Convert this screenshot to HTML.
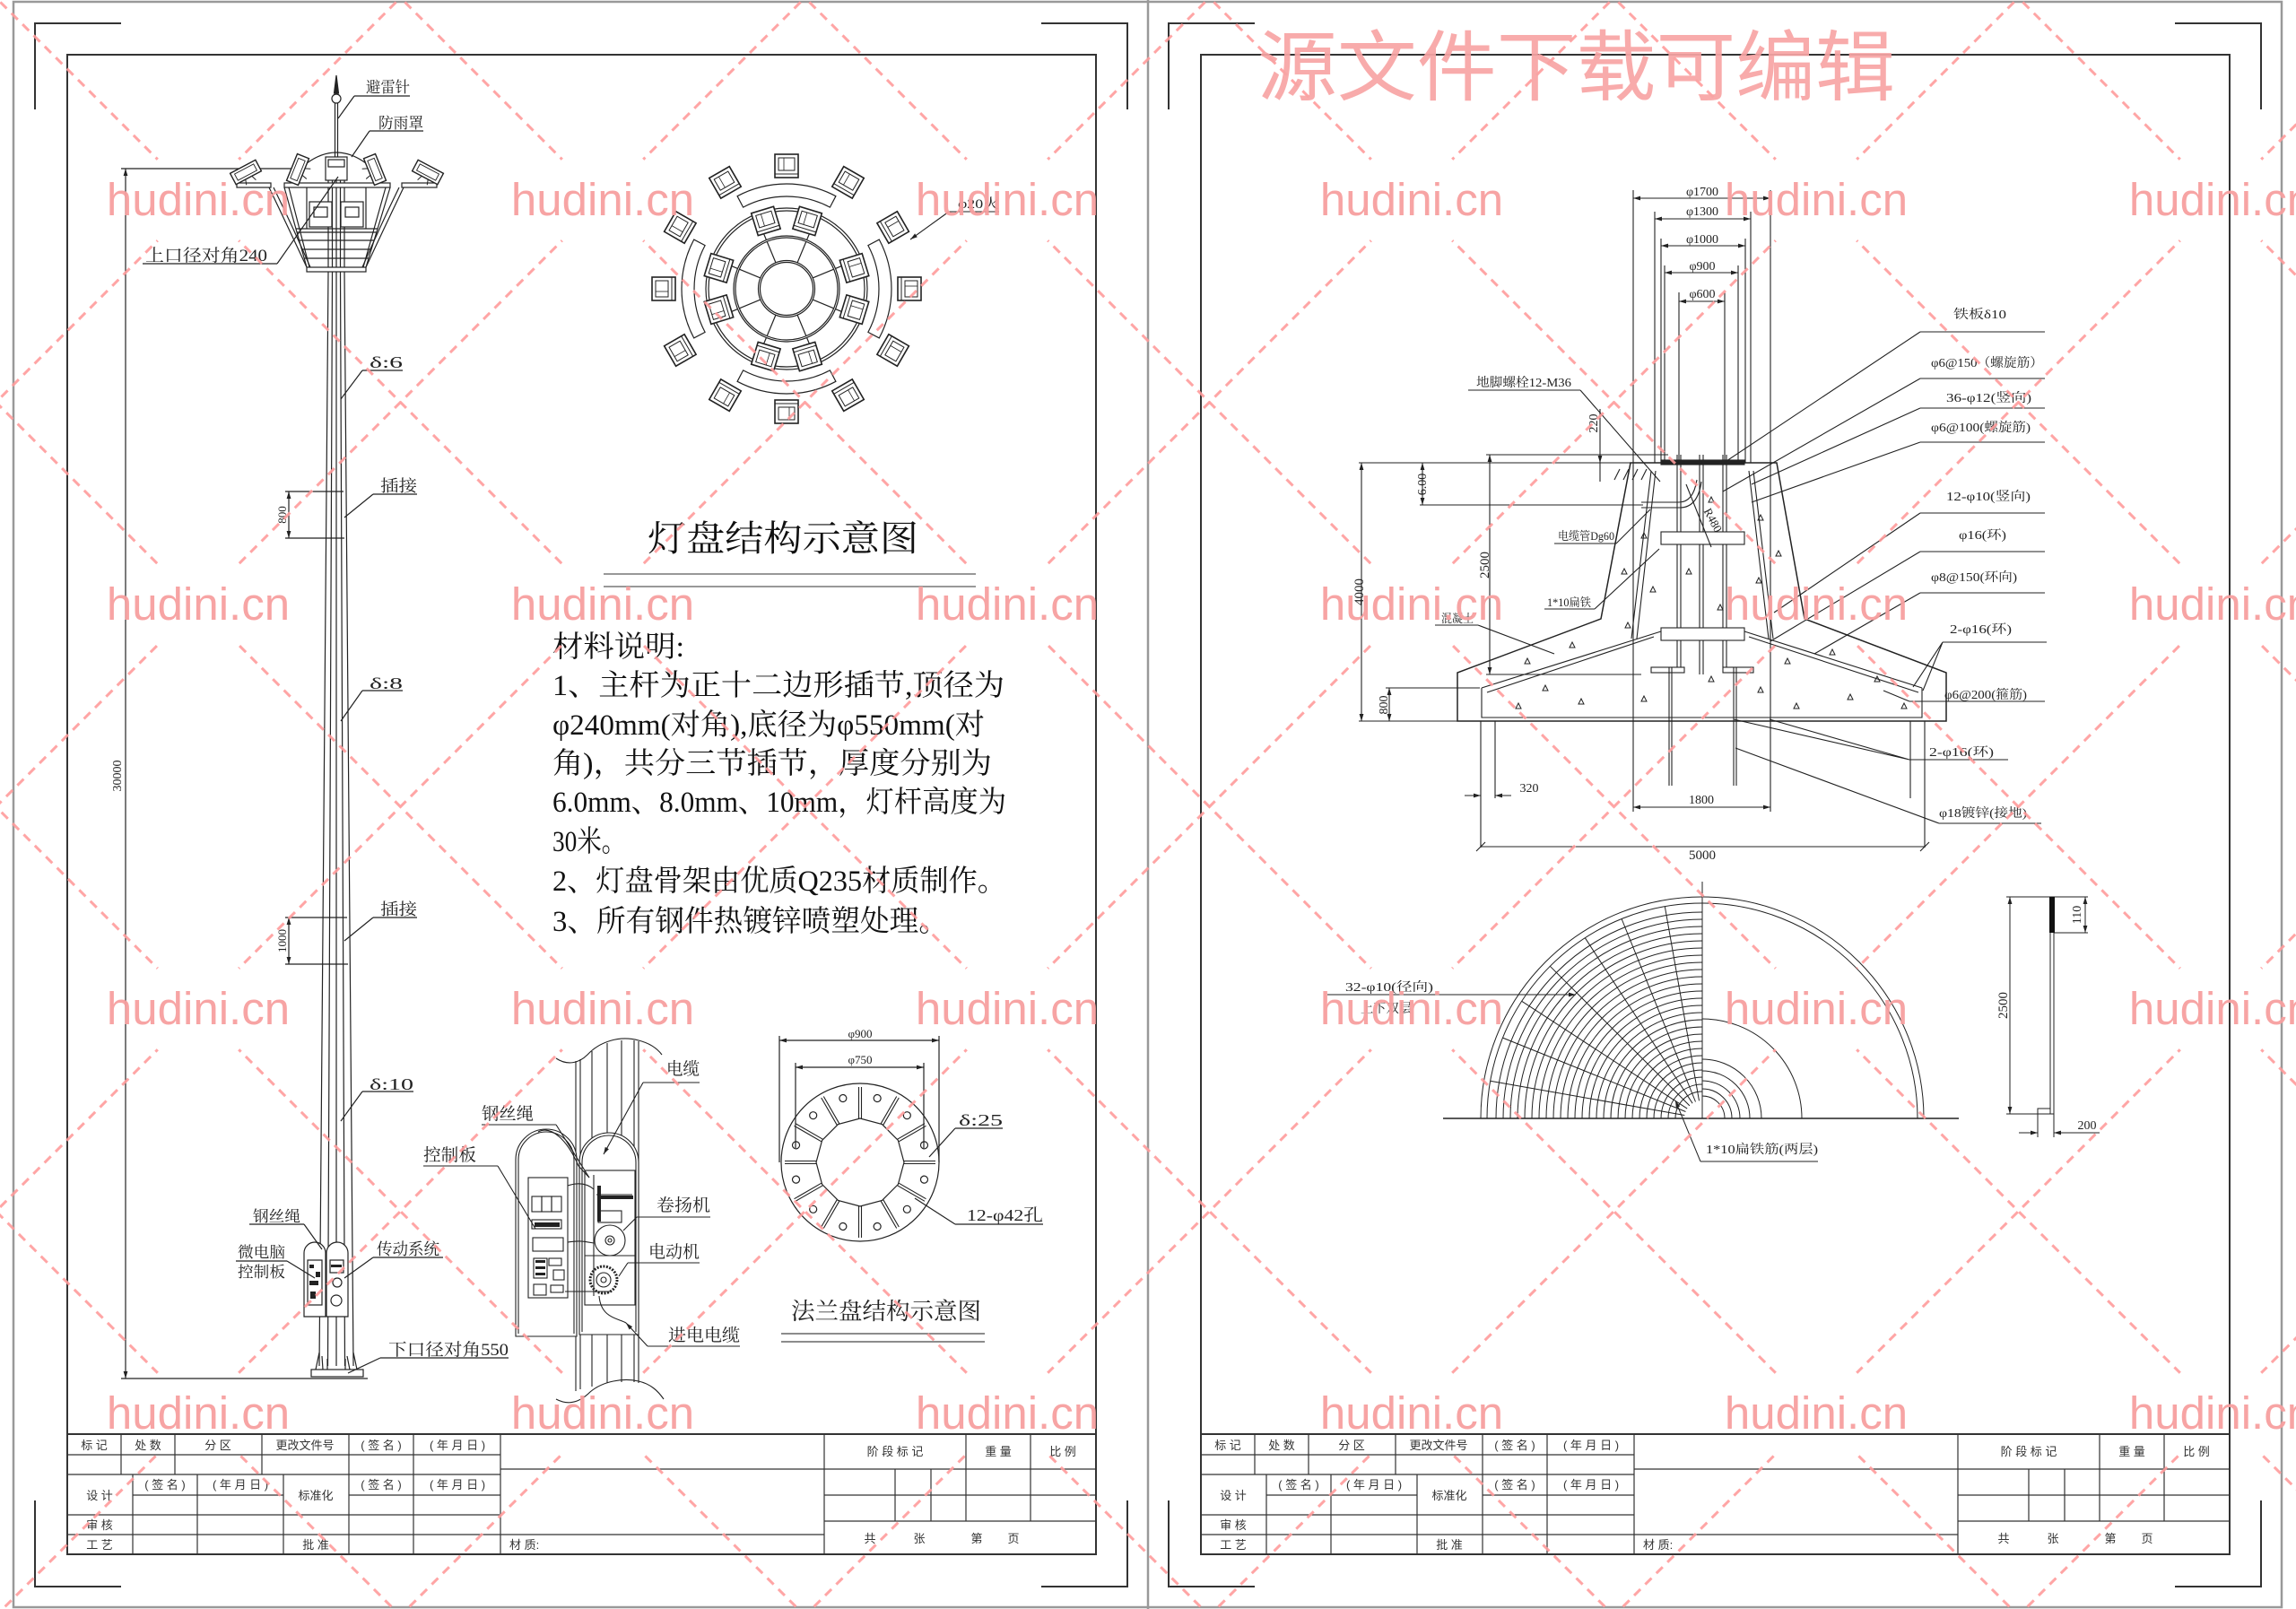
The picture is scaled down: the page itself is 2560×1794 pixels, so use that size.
<!DOCTYPE html>
<html><head><meta charset="utf-8">
<style>
html,body{margin:0;padding:0;background:#fff;}
svg{display:block;}
.s{font-family:"Liberation Serif","Noto Serif CJK SC",serif;}
.n{font-family:"Liberation Sans","Noto Sans CJK SC",sans-serif;}
</style></head><body>
<svg width="2560" height="1794" viewBox="0 0 2560 1794" xmlns="http://www.w3.org/2000/svg">
<defs>
<marker id="ar" viewBox="0 0 10 10" refX="10" refY="5" markerWidth="8" markerHeight="8" orient="auto-start-reverse" markerUnits="userSpaceOnUse"><path d="M0,2L10,5L0,8z" fill="#222"/></marker>
<g id="lamp"><rect x="-13" y="-13" width="26" height="26" fill="#fff" stroke="#222" stroke-width="1.6"/><rect x="-9" y="-9" width="18" height="14" fill="none" stroke="#222" stroke-width="1"/><line x1="-13" y1="9" x2="13" y2="9" stroke="#222"/><line x1="-3" y1="-9" x2="-3" y2="5" stroke="#222" stroke-width="0.8"/></g>
<g id="fl"><rect x="-16" y="-7" width="32" height="14" fill="#fff" stroke="#222" stroke-width="1.4"/><rect x="-12" y="-4" width="24" height="8" fill="none" stroke="#222" stroke-width="0.9"/><path d="M-4,7L-6,13M4,7L6,13" stroke="#222"/></g>
<g id="sp" stroke="#222" stroke-width="1.2" fill="none"><line x1="877" y1="263" x2="877" y2="235"/><line x1="877" y1="290.5" x2="877" y2="265"/></g>
<g id="rib" stroke="#222" stroke-width="1.1" fill="none"><path d="M957.5,1247V1212M960.5,1247V1212"/></g>
<circle id="hole" cx="959" cy="1222" r="4" fill="none" stroke="#222" stroke-width="1.2"/>
<mask id="wm"><rect x="0" y="0" width="2560" height="1794" fill="#fff"/>
<g fill="#000">
<circle cx="221" cy="223" r="64"/><circle cx="672" cy="223" r="64"/><circle cx="1123" cy="223" r="64"/><circle cx="1574" cy="223" r="64"/><circle cx="2025" cy="223" r="64"/><circle cx="2476" cy="223" r="64"/>
<circle cx="221" cy="674" r="64"/><circle cx="672" cy="674" r="64"/><circle cx="1123" cy="674" r="64"/><circle cx="1574" cy="674" r="64"/><circle cx="2025" cy="674" r="64"/><circle cx="2476" cy="674" r="64"/>
<circle cx="221" cy="1125" r="64"/><circle cx="672" cy="1125" r="64"/><circle cx="1123" cy="1125" r="64"/><circle cx="1574" cy="1125" r="64"/><circle cx="2025" cy="1125" r="64"/><circle cx="2476" cy="1125" r="64"/>
<circle cx="221" cy="1576" r="64"/><circle cx="672" cy="1576" r="64"/><circle cx="1123" cy="1576" r="64"/><circle cx="1574" cy="1576" r="64"/><circle cx="2025" cy="1576" r="64"/><circle cx="2476" cy="1576" r="64"/>
</g></mask>
</defs>
<rect x="0" y="0" width="2560" height="1794" fill="#fff"/>

<!-- sheet borders -->
<g fill="none" stroke="#999" stroke-width="2.5">
<rect x="15" y="2" width="2529" height="1790"/>
<line x1="1280" y1="0" x2="1280" y2="1794"/>
</g>
<g fill="none" stroke="#333" stroke-width="2">
<path d="M135,26H39V122M1161,26H1257V122M39,1673V1769H135M1257,1673V1769H1161"/>
<path d="M1399,26H1303V122M2425,26H2521V122M1303,1673V1769H1399M2521,1673V1769H2425"/>
<rect x="75" y="61" width="1147" height="1672"/>
<rect x="1339" y="61" width="1147" height="1672"/>
</g>

<!-- TITLE BLOCK LEFT -->
<g>
<g stroke="#333" stroke-width="1.2" fill="none">
<line x1="75" y1="1599" x2="1222" y2="1599" stroke-width="2"/>
<path d="M75,1622H558M75,1644H558M148,1667H316M389,1667H558M75,1689H558M75,1711H919M558,1638H1222M919,1667H1222M919,1696H1222M135,1599V1644M195,1599V1644M292,1599V1644M389,1599V1733M461,1599V1733M558,1599V1733M148,1644V1733M220,1644V1733M316,1644V1733M919,1599V1733M1077,1599V1696M1149,1599V1696M998,1638V1696M1038,1638V1696"/>
</g>
<g class="n" font-size="13" fill="#333" text-anchor="middle">
<text x="105" y="1616">标 记</text><text x="165" y="1616">处 数</text><text x="243" y="1616">分 区</text><text x="340" y="1616">更改文件号</text><text x="425" y="1616">( 签 名 )</text><text x="510" y="1616">( 年 月 日 )</text>
<text x="111" y="1672">设 计</text><text x="184" y="1660">( 签 名 )</text><text x="268" y="1660">( 年 月 日 )</text><text x="352" y="1672">标准化</text><text x="425" y="1660">( 签 名 )</text><text x="510" y="1660">( 年 月 日 )</text>
<text x="111" y="1705">审 核</text><text x="111" y="1727">工 艺</text><text x="352" y="1727">批 准</text>
<text x="998" y="1623">阶 段 标 记</text><text x="1113" y="1623">重 量</text><text x="1185" y="1623">比 例</text>
<text x="970" y="1720">共</text><text x="1025" y="1720">张</text><text x="1089" y="1720">第</text><text x="1130" y="1720">页</text>
</g>
<text class="n" font-size="13" fill="#333" x="568" y="1727">材 质:</text>
</g>
<!-- TITLE BLOCK RIGHT -->
<g transform="translate(1264,0)">
<g stroke="#333" stroke-width="1.2" fill="none">
<line x1="75" y1="1599" x2="1222" y2="1599" stroke-width="2"/>
<path d="M75,1622H558M75,1644H558M148,1667H316M389,1667H558M75,1689H558M75,1711H919M558,1638H1222M919,1667H1222M919,1696H1222M135,1599V1644M195,1599V1644M292,1599V1644M389,1599V1733M461,1599V1733M558,1599V1733M148,1644V1733M220,1644V1733M316,1644V1733M919,1599V1733M1077,1599V1696M1149,1599V1696M998,1638V1696M1038,1638V1696"/>
</g>
<g class="n" font-size="13" fill="#333" text-anchor="middle">
<text x="105" y="1616">标 记</text><text x="165" y="1616">处 数</text><text x="243" y="1616">分 区</text><text x="340" y="1616">更改文件号</text><text x="425" y="1616">( 签 名 )</text><text x="510" y="1616">( 年 月 日 )</text>
<text x="111" y="1672">设 计</text><text x="184" y="1660">( 签 名 )</text><text x="268" y="1660">( 年 月 日 )</text><text x="352" y="1672">标准化</text><text x="425" y="1660">( 签 名 )</text><text x="510" y="1660">( 年 月 日 )</text>
<text x="111" y="1705">审 核</text><text x="111" y="1727">工 艺</text><text x="352" y="1727">批 准</text>
<text x="998" y="1623">阶 段 标 记</text><text x="1113" y="1623">重 量</text><text x="1185" y="1623">比 例</text>
<text x="970" y="1720">共</text><text x="1025" y="1720">张</text><text x="1089" y="1720">第</text><text x="1130" y="1720">页</text>
</g>
<text class="n" font-size="13" fill="#333" x="568" y="1727">材 质:</text>
</g>

<!-- ================= LEFT: POLE ================= -->
<g stroke="#222" fill="none" stroke-width="1.2">
<path d="M135,188H330M135,1537H410"/>
<line x1="140" y1="188" x2="140" y2="1537" marker-start="url(#ar)" marker-end="url(#ar)"/>
<polyline points="366,200 366,303 356,1523"/>
<polyline points="370.5,200 370.5,303 365.5,1523"/>
<polyline points="375,200 375,1523"/>
<polyline points="379.5,200 379.5,303 384.5,1523"/>
<polyline points="384,200 384,303 394,1523"/>
<path d="M318,548H383M318,600H384M318,1023H387M318,1075H388"/>
<line x1="322" y1="548" x2="322" y2="600" marker-start="url(#ar)" marker-end="url(#ar)"/>
<line x1="322" y1="1023" x2="322" y2="1075" marker-start="url(#ar)" marker-end="url(#ar)"/>
<rect x="347" y="1527" width="58" height="8" fill="#fff"/>
<path d="M352,1527L356,1508M360,1527L359,1512M390,1527L387,1512M398,1527L394,1508M365,1527V1515M385,1527V1515"/>
<path d="M375,84L372.5,104L377.5,104Z" fill="#222"/>
<circle cx="375" cy="110" r="5" fill="#fff"/>
<path d="M373.5,115V176M376.5,115V176"/>
<path d="M342,182Q375,158 408,182"/>
<rect x="363" y="175" width="24" height="26" fill="#fff"/>
<rect x="366" y="178" width="18" height="8"/>
<rect x="264" y="204" width="38" height="5" fill="#fff"/>
<rect x="317" y="204" width="118" height="5" fill="#fff"/>
<rect x="448" y="204" width="39" height="5" fill="#fff"/>
<path d="M317,209L342,298M322,209L345,298M435,209L408,298M430,209L405,298"/>
<path d="M300,209Q322,255 342,298M305,209Q327,254 346,298M450,209Q428,255 408,298M445,209Q423,254 404,298"/>
<path d="M342,209V255M408,209V255"/>
<rect x="345" y="225" width="25" height="28" fill="#fff"/><rect x="350" y="231" width="15" height="11"/>
<rect x="380" y="225" width="25" height="28" fill="#fff"/><rect x="385" y="231" width="15" height="11"/>
<path d="M330,255H421M331,259H420M334,268H417M336,278H414M339,288H411"/>
<rect x="342" y="298" width="66" height="5" fill="#fff"/>
<path d="M339,1468V1397A12,12 0 0 1 363,1397V1468Z" fill="#fff"/>
<path d="M364,1468V1397A12,12 0 0 1 388,1397V1468Z" fill="#fff"/>
<rect x="343" y="1405" width="16" height="50"/>
<circle cx="376" cy="1430" r="5"/><circle cx="375" cy="1450" r="6"/>
<rect x="368" y="1405" width="15" height="14"/>
<path d="M395,107H457M412,146H472M159,294H309M404,413H449M416,551H465M404,770H449M416,1023H465M404,1217H461M278,1365H339M263,1406H320M416,1402H494M424,1514H567"/>
<path d="M395,107L377,132M412,146L392,175M309,294L377,197M404,413L380,445M416,551L384,577M404,770L380,804M416,1023L384,1049M404,1217L380,1250M339,1365L359,1393M320,1406L351,1425M416,1402L384,1425M424,1514L388,1531"/>
</g>
<g fill="#222">
<rect x="345" y="1410" width="5" height="4"/><rect x="352" y="1418" width="5" height="6"/><rect x="345" y="1428" width="10" height="5"/><rect x="346" y="1440" width="6" height="8"/><rect x="369" y="1410" width="12" height="3"/>
</g>
<use href="#fl" transform="translate(274,192) rotate(-28)"/>
<use href="#fl" transform="translate(332,189) rotate(-68)"/>
<use href="#fl" transform="translate(418,189) rotate(68)"/>
<use href="#fl" transform="translate(477,192) rotate(28)"/>

<g class="s" fill="#222" font-size="18">
<text x="408" y="103" font-size="17" textLength="49" lengthAdjust="spacingAndGlyphs">避雷针</text>
<text x="422" y="143" font-size="17" textLength="50" lengthAdjust="spacingAndGlyphs">防雨罩</text>
<text x="162" y="291" font-size="19" textLength="136" lengthAdjust="spacingAndGlyphs">上口径对角240</text>
<text x="412" y="410" textLength="37" lengthAdjust="spacingAndGlyphs">δ:6</text>
<text x="424" y="548" textLength="41" lengthAdjust="spacingAndGlyphs">插接</text>
<text x="412" y="768" textLength="37" lengthAdjust="spacingAndGlyphs">δ:8</text>
<text x="424" y="1020" textLength="41" lengthAdjust="spacingAndGlyphs">插接</text>
<text x="412" y="1215" textLength="49" lengthAdjust="spacingAndGlyphs">δ:10</text>
<text x="282" y="1362" font-size="17" textLength="53" lengthAdjust="spacingAndGlyphs">钢丝绳</text>
<text x="265" y="1402" font-size="17" textLength="53" lengthAdjust="spacingAndGlyphs">微电脑</text>
<text x="265" y="1424" font-size="17" textLength="53" lengthAdjust="spacingAndGlyphs">控制板</text>
<text x="420" y="1399" textLength="70" lengthAdjust="spacingAndGlyphs">传动系统</text>
<text x="433" y="1511" font-size="19" textLength="134" lengthAdjust="spacingAndGlyphs">下口径对角550</text>
<text transform="translate(135,865) rotate(-90)" font-size="14" text-anchor="middle">30000</text>
<text transform="translate(319,574) rotate(-90)" font-size="13" text-anchor="middle">800</text>
<text transform="translate(319,1049) rotate(-90)" font-size="13" text-anchor="middle">1000</text>
</g>

<!-- ================= LAMP DISK ================= -->
<g stroke="#222" fill="none" stroke-width="1.2">
<path id="seg" d="M828.6,231.1A103,103 0 0 1 925.4,231.1L931.9,218.7A117,117 0 0 0 822.1,218.7Z" fill="#fff"/>
<use href="#seg" transform="rotate(90 877 322)"/>
<use href="#seg" transform="rotate(180 877 322)"/>
<use href="#seg" transform="rotate(270 877 322)"/>
<circle cx="877" cy="322" r="90" fill="#fff"/><circle cx="877" cy="322" r="87"/>
<circle cx="877" cy="322" r="59"/><circle cx="877" cy="322" r="57"/>
<circle cx="877" cy="322" r="31.5"/><circle cx="877" cy="322" r="29.5"/>
</g>
<g>
<use href="#sp" transform="rotate(22.5 877 322)"/><use href="#sp" transform="rotate(67.5 877 322)"/><use href="#sp" transform="rotate(112.5 877 322)"/><use href="#sp" transform="rotate(157.5 877 322)"/><use href="#sp" transform="rotate(202.5 877 322)"/><use href="#sp" transform="rotate(247.5 877 322)"/><use href="#sp" transform="rotate(292.5 877 322)"/><use href="#sp" transform="rotate(337.5 877 322)"/>
</g>
<g>
<use href="#lamp" transform="rotate(-17 877 322) translate(877,243)"/><use href="#lamp" transform="rotate(17 877 322) translate(877,243)"/>
<use href="#lamp" transform="rotate(73 877 322) translate(877,243)"/><use href="#lamp" transform="rotate(107 877 322) translate(877,243)"/>
<use href="#lamp" transform="rotate(163 877 322) translate(877,243)"/><use href="#lamp" transform="rotate(197 877 322) translate(877,243)"/>
<use href="#lamp" transform="rotate(253 877 322) translate(877,243)"/><use href="#lamp" transform="rotate(287 877 322) translate(877,243)"/>
<use href="#lamp" transform="translate(877,185)"/><use href="#lamp" transform="rotate(30 877 322) translate(877,185)"/><use href="#lamp" transform="rotate(60 877 322) translate(877,185)"/><use href="#lamp" transform="rotate(90 877 322) translate(877,185)"/><use href="#lamp" transform="rotate(120 877 322) translate(877,185)"/><use href="#lamp" transform="rotate(150 877 322) translate(877,185)"/><use href="#lamp" transform="rotate(180 877 322) translate(877,185)"/><use href="#lamp" transform="rotate(210 877 322) translate(877,185)"/><use href="#lamp" transform="rotate(240 877 322) translate(877,185)"/><use href="#lamp" transform="rotate(270 877 322) translate(877,185)"/><use href="#lamp" transform="rotate(300 877 322) translate(877,185)"/><use href="#lamp" transform="rotate(330 877 322) translate(877,185)"/>
</g>
<g stroke="#222" stroke-width="1.1" fill="none">
<path d="M1058,236H1114"/><line x1="1058" y1="236" x2="1015" y2="267" marker-end="url(#ar)"/>
</g>
<text class="s" x="1068" y="232" font-size="15" fill="#222" textLength="46" lengthAdjust="spacingAndGlyphs">φ20火</text>

<!-- title + notes -->
<text class="s" x="722" y="614" font-size="40" fill="#111" textLength="302" lengthAdjust="spacingAndGlyphs">灯盘结构示意图</text>
<path d="M673,640H1088M673,654H1088" stroke="#777" stroke-width="1.6"/>
<g class="s" fill="#111" font-size="33">
<text x="616" y="732" textLength="147" lengthAdjust="spacingAndGlyphs">材料说明:</text>
<text x="616" y="775" textLength="504" lengthAdjust="spacingAndGlyphs">1、主杆为正十二边形插节,顶径为</text>
<text x="616" y="819" textLength="482" lengthAdjust="spacingAndGlyphs">φ240mm(对角),底径为φ550mm(对</text>
<text x="616" y="862" textLength="490" lengthAdjust="spacingAndGlyphs">角)，共分三节插节，厚度分别为</text>
<text x="616" y="905" textLength="506" lengthAdjust="spacingAndGlyphs">6.0mm、8.0mm、10mm，灯杆高度为</text>
<text x="616" y="949" textLength="82" lengthAdjust="spacingAndGlyphs">30米。</text>
<text x="616" y="993" textLength="506" lengthAdjust="spacingAndGlyphs">2、灯盘骨架由优质Q235材质制作。</text>
<text x="616" y="1038" textLength="441" lengthAdjust="spacingAndGlyphs">3、所有钢件热镀锌喷塑处理。</text>
</g>

<!-- ================= CONTROL BOX ================= -->
<g stroke="#222" fill="none" stroke-width="1.1">
<path d="M642,1183V1551M647,1181V1549M660,1172V1546M677,1163V1542M693,1160V1541M707,1160V1541M712,1161V1542"/>
<path d="M620,1180C632,1188 645,1186 655,1176C668,1162 690,1154 712,1160C724,1163 732,1168 738,1176"/>
<path d="M620,1560C635,1568 648,1562 658,1552C672,1540 695,1536 712,1540C725,1543 733,1550 740,1560"/>
<path d="M575,1490V1293A34,34 0 0 1 643,1293V1490Z" fill="#fff"/>
<path d="M578,1487V1293A31,31 0 0 1 640,1293V1487"/>
<path d="M646,1488V1296A33,33 0 0 1 712,1296V1488Z" fill="#fff"/>
<path d="M649,1485V1296A30,30 0 0 1 709,1296V1485"/>
<rect x="589" y="1313" width="44" height="134"/>
<rect x="593" y="1334" width="11" height="17"/><rect x="604" y="1334" width="11" height="17"/><rect x="615" y="1334" width="11" height="17"/>
<rect x="593" y="1360" width="33" height="10"/>
<rect x="594" y="1380" width="34" height="15"/>
<rect x="595" y="1403" width="15" height="22"/><rect x="612" y="1403" width="14" height="8"/>
<rect x="617" y="1416" width="12" height="11"/>
<rect x="595" y="1432" width="14" height="12"/><rect x="614" y="1433" width="14" height="8"/>
<rect x="652" y="1305" width="56" height="150"/>
<path d="M652,1400H708M665,1332H705"/>
<rect x="667" y="1350" width="26" height="13"/>
<circle cx="680" cy="1383" r="17"/><circle cx="680" cy="1383" r="5"/><circle cx="680" cy="1383" r="2"/>
<circle cx="673" cy="1427" r="15" stroke-width="3" stroke-dasharray="2 1.5"/><circle cx="673" cy="1427" r="8"/><circle cx="673" cy="1427" r="3"/>
<path d="M633,1322C645,1318 655,1320 662,1326M633,1385C645,1383 650,1384 662,1386M630,1440H680"/>
<path d="M600,1262C615,1254 633,1272 645,1300L657,1313"/>
<path d="M662,1310V1445M668,1445C670,1470 690,1470 698,1475"/>
<path d="M717,1207H780M537,1254H620M472,1300H555M710,1357H792M700,1408H780M722,1501H825"/>
<line x1="717" y1="1207" x2="673" y2="1287" marker-end="url(#ar)"/>
<path d="M620,1254L657,1313M555,1300L597,1370M710,1357L695,1372M700,1408L690,1423"/>
<line x1="722" y1="1501" x2="698" y2="1475" marker-end="url(#ar)"/>
</g>
<g fill="#222">
<rect x="666" y="1322" width="4" height="40"/><rect x="666" y="1333" width="40" height="4"/>
<rect x="596" y="1363" width="28" height="5"/><rect x="597" y="1405" width="11" height="3"/><rect x="597" y="1412" width="11" height="3"/><rect x="597" y="1419" width="11" height="3"/>
</g>
<g class="s" fill="#222" font-size="19">
<text x="743" y="1198" textLength="37" lengthAdjust="spacingAndGlyphs">电缆</text>
<text x="537" y="1248" textLength="58" lengthAdjust="spacingAndGlyphs">钢丝绳</text>
<text x="472" y="1294" textLength="59" lengthAdjust="spacingAndGlyphs">控制板</text>
<text x="732" y="1350" textLength="60" lengthAdjust="spacingAndGlyphs">卷扬机</text>
<text x="723" y="1402" textLength="57" lengthAdjust="spacingAndGlyphs">电动机</text>
<text x="745" y="1495" textLength="80" lengthAdjust="spacingAndGlyphs">进电电缆</text>
</g>

<!-- ================= FLANGE ================= -->
<g stroke="#222" fill="none" stroke-width="1.2">
<circle cx="959" cy="1296" r="88"/>
<polygon points="1008,1296 1001.4,1320.5 983.5,1338.4 959,1345 934.5,1338.4 916.6,1320.5 910,1296 916.6,1271.5 934.5,1253.6 959,1247 983.5,1253.6 1001.4,1271.5"/>
<path d="M869,1155V1296M1047,1155V1296M887,1185V1280M1030,1185V1280"/>
<line x1="869" y1="1160" x2="1047" y2="1160" marker-start="url(#ar)" marker-end="url(#ar)"/>
<line x1="887" y1="1190" x2="1030" y2="1190" marker-start="url(#ar)" marker-end="url(#ar)"/>
<path d="M1065,1258H1118M1065,1258L1036,1290M1065,1365H1163M1065,1365L1020,1336"/>
</g>
<g>
<use href="#rib"/><use href="#rib" transform="rotate(30 959 1296)"/><use href="#rib" transform="rotate(60 959 1296)"/><use href="#rib" transform="rotate(90 959 1296)"/><use href="#rib" transform="rotate(120 959 1296)"/><use href="#rib" transform="rotate(150 959 1296)"/><use href="#rib" transform="rotate(180 959 1296)"/><use href="#rib" transform="rotate(210 959 1296)"/><use href="#rib" transform="rotate(240 959 1296)"/><use href="#rib" transform="rotate(270 959 1296)"/><use href="#rib" transform="rotate(300 959 1296)"/><use href="#rib" transform="rotate(330 959 1296)"/>
<use href="#hole" transform="rotate(15 959 1296)"/><use href="#hole" transform="rotate(45 959 1296)"/><use href="#hole" transform="rotate(75 959 1296)"/><use href="#hole" transform="rotate(105 959 1296)"/><use href="#hole" transform="rotate(135 959 1296)"/><use href="#hole" transform="rotate(165 959 1296)"/><use href="#hole" transform="rotate(195 959 1296)"/><use href="#hole" transform="rotate(225 959 1296)"/><use href="#hole" transform="rotate(255 959 1296)"/><use href="#hole" transform="rotate(285 959 1296)"/><use href="#hole" transform="rotate(315 959 1296)"/><use href="#hole" transform="rotate(345 959 1296)"/>
</g>
<g class="s" fill="#222">
<text x="959" y="1157" font-size="13" text-anchor="middle">φ900</text>
<text x="959" y="1186" font-size="13" text-anchor="middle">φ750</text>
<text x="1069" y="1255" font-size="18" textLength="49" lengthAdjust="spacingAndGlyphs">δ:25</text>
<text x="1078" y="1361" font-size="18" textLength="85" lengthAdjust="spacingAndGlyphs">12-φ42孔</text>
<text x="882" y="1471" font-size="26" textLength="212" lengthAdjust="spacingAndGlyphs">法兰盘结构示意图</text>
</g>
<path d="M871,1487H1098M871,1496H1098" stroke="#666" stroke-width="1.5"/>

<!-- ================= RIGHT: FOUNDATION ================= -->
<g stroke="#222" fill="none" stroke-width="1.1">
<path d="M1821,212V905M1974,212V905M1845,236V516M1952,236V516M1852,266V516M1946,266V516M1856,296V516M1938,296V516M1872,326V516M1923,326V516"/>
<line x1="1821" y1="221" x2="1974" y2="221" marker-start="url(#ar)" marker-end="url(#ar)"/>
<line x1="1845" y1="244" x2="1952" y2="244" marker-start="url(#ar)" marker-end="url(#ar)"/>
<line x1="1852" y1="274" x2="1946" y2="274" marker-start="url(#ar)" marker-end="url(#ar)"/>
<line x1="1856" y1="304" x2="1938" y2="304" marker-start="url(#ar)" marker-end="url(#ar)"/>
<line x1="1872" y1="336" x2="1923" y2="336" marker-start="url(#ar)" marker-end="url(#ar)"/>
<path d="M1818,516H1981L2012,690L2170,750V804H1625V750L1785,690Z" stroke-width="1.5"/>
<path d="M1515,516H1818M1515,804H1625M1583,563H1832M1657,507H1860M1657,752H1830M1545,767H1650"/>
<line x1="1518" y1="516" x2="1518" y2="804" marker-start="url(#ar)" marker-end="url(#ar)"/>
<line x1="1586" y1="516" x2="1586" y2="563" marker-start="url(#ar)" marker-end="url(#ar)"/>
<line x1="1661" y1="507" x2="1661" y2="752" marker-start="url(#ar)" marker-end="url(#ar)"/>
<line x1="1549" y1="767" x2="1549" y2="804" marker-start="url(#ar)" marker-end="url(#ar)"/>
<line x1="1784" y1="456" x2="1784" y2="516" marker-end="url(#ar)"/>
<path d="M1784,516V537"/>
<path d="M1841,525L1819,712M1846,525L1825,712M1950,525L1972,712M1955,525L1977,712"/>
<path d="M1652,767L1852,704M1658,772L1844,710M2143,767L1945,704M2139,772L1950,710M1652,767V800H2143V767"/>
<rect x="1852" y="513" width="93" height="5" fill="#222"/>
<path d="M1870,507V744M1874,507V744M1921,507V744M1925,507V744M1895,507V752M1899,507V752"/>
<rect x="1852" y="593" width="93" height="14" fill="#fff"/>
<rect x="1852" y="700" width="93" height="14" fill="#fff"/>
<rect x="1841" y="744" width="37" height="6"/><rect x="1921" y="744" width="34" height="6"/>
<path d="M1861,744V876M1864,744V876M1933,744V876M1936,744V876"/>
<path d="M1830,560H1872Q1888,560 1892,535M1830,566H1873Q1893,566 1897,537"/>
<path d="M1800,535l6,-12M1810,535l6,-12M1820,535l6,-12M1830,535l6,-12"/>
<path d="M1651,804V945M2146,804V945M1667,804V890M2130,804V890"/>
<line x1="1651" y1="944" x2="2146" y2="944"/>
<path d="M1646,949l10,-10M2141,949l10,-10"/>
<line x1="1633" y1="887" x2="1651" y2="887" marker-end="url(#ar)"/>
<line x1="1685" y1="887" x2="1667" y2="887" marker-end="url(#ar)"/>
<line x1="1821" y1="900" x2="1974" y2="900" marker-start="url(#ar)" marker-end="url(#ar)"/>
<path d="M1880,540L1908,610"/>
<path d="M2141,370H2280M2141,422H2280M2141,455H2280M2141,493H2280M2141,572H2280M2141,615H2280M2141,661H2280M2166,716H2282M2129,782H2280M2129,847H2239M2162,918H2276"/>
<path d="M2141,370L1925,514M2141,422L1921,548M2141,455L1953,540M2141,493L1953,560M2141,572L1978,683M2141,615L1974,715M2141,661L2023,729M2166,716L2133,766M2166,716L2144,770M2129,782L2100,770M2129,847L1933,802M2129,847L1973,802M2162,918L1935,834"/>
<path d="M1637,435H1762M1762,435L1851,537M1733,606H1802M1802,606L1840,568M1722,679H1778M1778,679L1850,612M1600,697H1648M1648,697L1733,729"/>
</g>
<g fill="none" stroke="#222" stroke-width="1">
<path d="M1830,600l3,-6l3,6zM1905,560l3,-6l3,6zM1960,580l3,-6l3,6zM1840,660l3,-6l3,6zM1958,650l3,-6l3,6zM1808,640l3,-6l3,6zM1980,620l3,-6l3,6zM1700,740l3,-6l3,6zM1750,722l3,-6l3,6zM1690,790l3,-6l3,6zM1760,785l3,-6l3,6zM1830,782l3,-6l3,6zM1960,772l3,-6l3,6zM2040,730l3,-6l3,6zM2090,760l3,-6l3,6zM2000,790l3,-6l3,6zM2120,790l3,-6l3,6zM1880,640l3,-6l3,6zM1915,680l3,-6l3,6zM1812,700l3,-6l3,6zM2060,780l3,-6l3,6zM1720,770l3,-6l3,6zM1905,760l3,-6l3,6zM1990,740l3,-6l3,6z"/>
</g>
<g class="s" fill="#222" font-size="14">
<text x="1898" y="218" text-anchor="middle">φ1700</text>
<text x="1898" y="240" text-anchor="middle">φ1300</text>
<text x="1898" y="271" text-anchor="middle">φ1000</text>
<text x="1898" y="301" text-anchor="middle">φ900</text>
<text x="1898" y="332" text-anchor="middle">φ600</text>
<text transform="translate(1520,660) rotate(-90)" font-size="15" text-anchor="middle">4000</text>
<text transform="translate(1590,540) rotate(-90)" text-anchor="middle">6.00</text>
<text transform="translate(1660,630) rotate(-90)" font-size="15" text-anchor="middle">2500</text>
<text transform="translate(1547,786) rotate(-90)" text-anchor="middle">800</text>
<text transform="translate(1781,472) rotate(-90)" text-anchor="middle">220</text>
<text transform="translate(1906,582) rotate(62)" font-size="13" text-anchor="middle">R480</text>
<text x="1705" y="883" text-anchor="middle">320</text>
<text x="1897" y="896" text-anchor="middle">1800</text>
<text x="1898" y="958" font-size="15" text-anchor="middle">5000</text>
<text x="2178" y="355" textLength="59" lengthAdjust="spacingAndGlyphs">铁板δ10</text>
<text x="2153" y="409" textLength="125" lengthAdjust="spacingAndGlyphs">φ6@150（螺旋筋）</text>
<text x="2170" y="448" textLength="95" lengthAdjust="spacingAndGlyphs">36-φ12(竖向)</text>
<text x="2153" y="481" textLength="111" lengthAdjust="spacingAndGlyphs">φ6@100(螺旋筋)</text>
<text x="2170" y="558" textLength="94" lengthAdjust="spacingAndGlyphs">12-φ10(竖向)</text>
<text x="2184" y="601" textLength="53" lengthAdjust="spacingAndGlyphs">φ16(环)</text>
<text x="2153" y="648" textLength="96" lengthAdjust="spacingAndGlyphs">φ8@150(环向)</text>
<text x="2174" y="706" textLength="69" lengthAdjust="spacingAndGlyphs">2-φ16(环)</text>
<text x="2168" y="779" textLength="92" lengthAdjust="spacingAndGlyphs">φ6@200(箍筋)</text>
<text x="2151" y="843" textLength="72" lengthAdjust="spacingAndGlyphs">2-φ16(环)</text>
<text x="2162" y="911" textLength="98" lengthAdjust="spacingAndGlyphs">φ18镀锌(接地)</text>
<text x="1646" y="431" textLength="106" lengthAdjust="spacingAndGlyphs">地脚螺栓12-M36</text>
<text x="1737" y="602" font-size="13" textLength="63" lengthAdjust="spacingAndGlyphs">电缆管Dg60</text>
<text x="1725" y="676" font-size="13" textLength="49" lengthAdjust="spacingAndGlyphs">1*10扁铁</text>
<text x="1607" y="694" font-size="13" textLength="36" lengthAdjust="spacingAndGlyphs">混凝土</text>
</g>

<!-- ================= HALF CIRCLE ================= -->
<g stroke="#222" fill="none" stroke-width="1">
<path d="M1609,1247H2184" stroke-width="1.5"/>
<path d="M1898,983V1247"/>
<path d="M1651,1247A247,247 0 0 1 2145,1247M1658,1247A240,240 0 0 1 2138,1247"/>
<path d="M1868,1247A30,30 0 0 1 1898,1217M1860,1247A38,38 0 0 1 1898,1209M1852,1247A46,46 0 0 1 1898,1201M1844,1247A54,54 0 0 1 1898,1193M1836,1247A62,62 0 0 1 1898,1185M1828,1247A70,70 0 0 1 1898,1177M1820,1247A78,78 0 0 1 1898,1169M1812,1247A86,86 0 0 1 1898,1161M1804,1247A94,94 0 0 1 1898,1153M1796,1247A102,102 0 0 1 1898,1145M1788,1247A110,110 0 0 1 1898,1137M1780,1247A118,118 0 0 1 1898,1129M1772,1247A126,126 0 0 1 1898,1121M1764,1247A134,134 0 0 1 1898,1113M1756,1247A142,142 0 0 1 1898,1105M1748,1247A150,150 0 0 1 1898,1097M1740,1247A158,158 0 0 1 1898,1089M1732,1247A166,166 0 0 1 1898,1081M1724,1247A174,174 0 0 1 1898,1073M1716,1247A182,182 0 0 1 1898,1065M1708,1247A190,190 0 0 1 1898,1057M1700,1247A198,198 0 0 1 1898,1049M1692,1247A206,206 0 0 1 1898,1041M1684,1247A214,214 0 0 1 1898,1033M1676,1247A222,222 0 0 1 1898,1025M1668,1247A230,230 0 0 1 1898,1017"/>
<path d="M1898,1136A111,111 0 0 1 2009,1247M1898,1181A66,66 0 0 1 1964,1247M1898,1194A53,53 0 0 1 1951,1247M1898,1205A42,42 0 0 1 1940,1247M1898,1214A33,33 0 0 1 1931,1247M1898,1222A25,25 0 0 1 1923,1247"/>
<path d="M1894.5,1227.3L1856.3,1010.6M1890.5,1228.5L1808.1,1024.5M1887.1,1230.2L1767.3,1045.7M1883.9,1232.9L1728.3,1077.3M1881.2,1236.1L1696.7,1116.3M1879.5,1239.5L1675.5,1157.1M1878.3,1243.5L1661.6,1205.3"/>
<line x1="1480" y1="1109" x2="1757" y2="1109" marker-end="url(#ar)"/>
<path d="M1896,1295H2027"/>
<line x1="1896" y1="1295" x2="1868" y2="1227" marker-end="url(#ar)"/>
<line x1="2241" y1="1000" x2="2241" y2="1242" marker-start="url(#ar)" marker-end="url(#ar)"/>
<path d="M2237,1000H2328M2237,1242H2272M2286,1040V1242M2290,1040V1242M2286,1236H2272V1242H2290M2290,1040H2328"/>
<line x1="2325" y1="1000" x2="2325" y2="1040" marker-start="url(#ar)" marker-end="url(#ar)"/>
<path d="M2272,1242V1268M2290,1242V1268"/>
<line x1="2251" y1="1263" x2="2272" y2="1263" marker-end="url(#ar)"/>
<line x1="2341" y1="1263" x2="2290" y2="1263" marker-end="url(#ar)"/>
</g>
<rect x="2285" y="1000" width="6" height="40" fill="#111"/>
<g class="s" fill="#222" font-size="14">
<text x="1500" y="1105" textLength="98" lengthAdjust="spacingAndGlyphs">32-φ10(径向)</text>
<text x="1517" y="1129" textLength="57" lengthAdjust="spacingAndGlyphs">上下双层</text>
<text x="1902" y="1286" textLength="125" lengthAdjust="spacingAndGlyphs">1*10扁铁筋(两层)</text>
<text transform="translate(2238,1121) rotate(-90)" font-size="15" text-anchor="middle">2500</text>
<text transform="translate(2320,1020) rotate(-90)" text-anchor="middle">110</text>
<text x="2327" y="1259" text-anchor="middle">200</text>
</g>

<!-- ================= WATERMARK ================= -->
<g stroke="#ff9c9c" stroke-width="3" stroke-dasharray="10 7.5" fill="none" mask="url(#wm)" opacity="0.9">
<path d="M-1365,-10L449,1804M-914,-10L900,1804M-463,-10L1351,1804M-12,-10L1802,1804M439,-10L2253,1804M890,-10L2704,1804M1341,-10L3155,1804M1792,-10L3606,1804M2243,-10L4057,1804"/>
<path d="M454,-10L-1360,1804M905,-10L-909,1804M1356,-10L-458,1804M1807,-10L-7,1804M2258,-10L444,1804M2709,-10L895,1804M3160,-10L1346,1804M3611,-10L1797,1804M4062,-10L2248,1804"/>
</g>
<g class="n" font-size="51" fill="#f7a0a0" text-anchor="middle" opacity="0.95">
<text x="221" y="240">hudini.cn</text><text x="672" y="240">hudini.cn</text><text x="1123" y="240">hudini.cn</text><text x="1574" y="240">hudini.cn</text><text x="2025" y="240">hudini.cn</text><text x="2476" y="240">hudini.cn</text>
<text x="221" y="691">hudini.cn</text><text x="672" y="691">hudini.cn</text><text x="1123" y="691">hudini.cn</text><text x="1574" y="691">hudini.cn</text><text x="2025" y="691">hudini.cn</text><text x="2476" y="691">hudini.cn</text>
<text x="221" y="1142">hudini.cn</text><text x="672" y="1142">hudini.cn</text><text x="1123" y="1142">hudini.cn</text><text x="1574" y="1142">hudini.cn</text><text x="2025" y="1142">hudini.cn</text><text x="2476" y="1142">hudini.cn</text>
<text x="221" y="1593">hudini.cn</text><text x="672" y="1593">hudini.cn</text><text x="1123" y="1593">hudini.cn</text><text x="1574" y="1593">hudini.cn</text><text x="2025" y="1593">hudini.cn</text><text x="2476" y="1593">hudini.cn</text>
</g>
<text class="n" x="1402" y="105" font-size="86" fill="#f8a4a4" opacity="0.92" textLength="711" lengthAdjust="spacingAndGlyphs">源文件下载可编辑</text>
</svg>
</body></html>
